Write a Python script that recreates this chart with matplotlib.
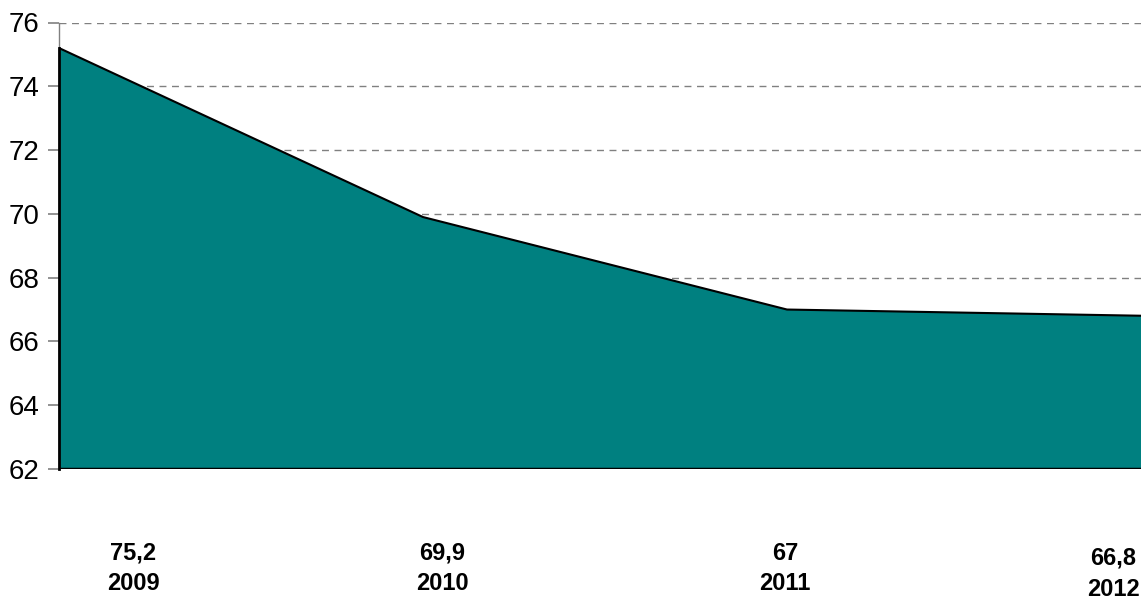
import matplotlib
matplotlib.use("Agg")
import matplotlib.pyplot as plt
import numpy as np

years = ["2009", "2010", "2011", "2012"]
values = [75.2, 69.9, 67.0, 66.8]
value_labels = ["75,2", "69,9", "67", "66,8"]
yticks = [62, 64, 66, 68, 70, 72, 74, 76]

W, H = 1141, 601
fig = plt.figure(figsize=(W / 100, H / 100), dpi=100)
x0, x1 = 59, 1151
ax = fig.add_axes([x0 / W, (H - 469) / H, (x1 - x0) / W, (469 - 22.5) / H])
ax.set_facecolor("none")

x = np.arange(len(values))
ax.fill_between(x, values, 62, facecolor="#008080", edgecolor="none", zorder=2)
ax.plot(x, values, color="black", lw=1.5, zorder=3)
ax.plot([0, 0], [62, values[0]], color="black", lw=2, zorder=3, clip_on=False)
ax.plot([0, 3], [62, 62], color="black", lw=2.5, zorder=3)

ax.set_xlim(0, 3)
ax.set_ylim(62, 76)
ax.set_yticks(yticks)
ax.set_yticklabels([str(t) for t in yticks], fontfamily="Liberation Sans", fontsize=20)
ax.tick_params(axis="y", length=8, width=1.2, color="#808080", pad=6)
ax.set_xticks([])
for t in yticks[1:]:
    ax.axhline(t, color="#808080", lw=1, ls=(0, (5, 4)), zorder=1)
for s in ["top", "right", "bottom"]:
    ax.spines[s].set_visible(False)
ax.spines["left"].set_color("#808080")
ax.spines["left"].set_linewidth(1)

label_x = [133, 442, 785, 1113]
label_y = [553, 553, 553, 558]
for lx, ly, v, yr in zip(label_x, label_y, value_labels, years):
    fig.text(lx / W, 1 - ly / H, v, ha="center", va="center",
             fontfamily="Liberation Sans", fontweight="bold", fontsize=17)
    fig.text(lx / W, 1 - (ly + 31) / H, yr, ha="center", va="center",
             fontfamily="Liberation Sans", fontweight="bold", fontsize=17)

fig.savefig("out.png", dpi=100)
